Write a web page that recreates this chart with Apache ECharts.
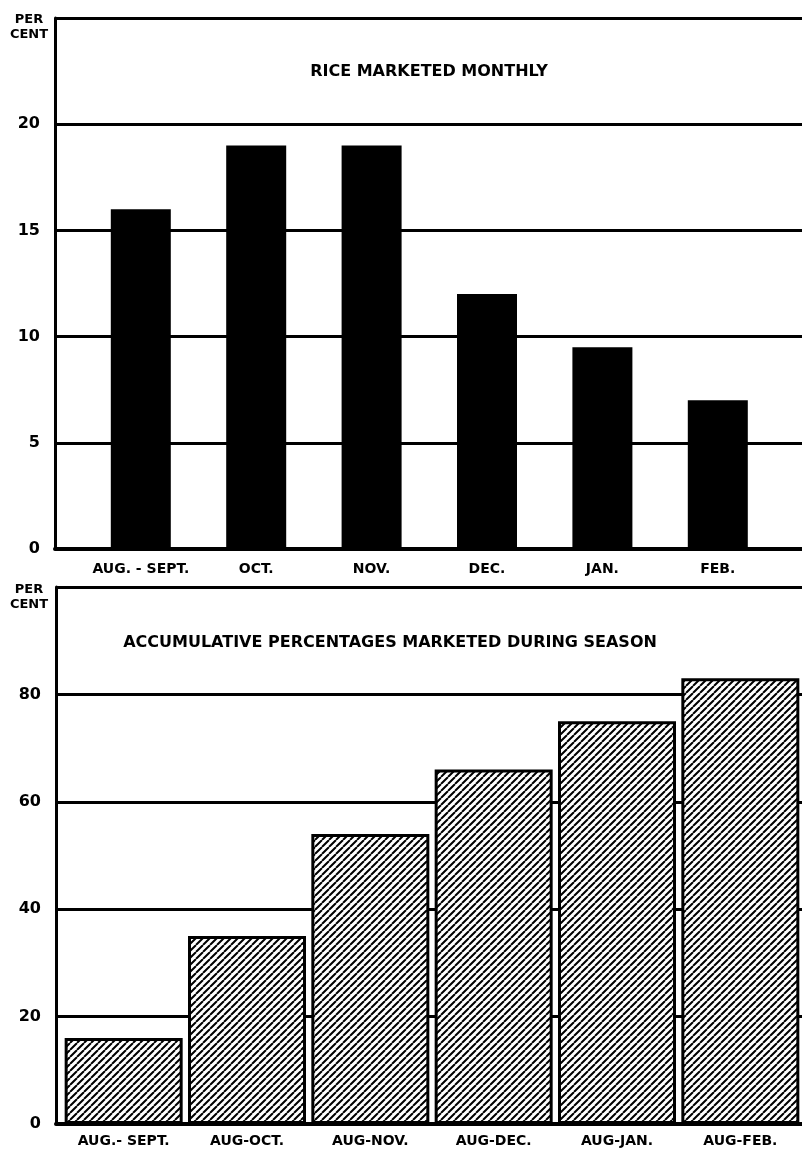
<!DOCTYPE html>
<html>
<head>
<meta charset="utf-8">
<script src="https://cdn.jsdelivr.net/npm/echarts@6/dist/echarts.min.js"></script>
<style>
  html, body { margin: 0; padding: 0; background: #fff; }
  #chart { width: 802px; height: 1149px; }
</style>
</head>
<body>
<div id="chart"></div>
<script>
// ---- data ----
const monthlyCategories = ['AUG. - SEPT.', 'OCT.', 'NOV.', 'DEC.', 'JAN.', 'FEB.'];
const monthlyValues = [16, 19, 19, 12, 9.5, 7];
const monthlyTicks = { min: 0, max: 25, interval: 5 };

const cumulativeCategories = ['AUG.- SEPT.', 'AUG-OCT.', 'AUG-NOV.', 'AUG-DEC.', 'AUG-JAN.', 'AUG-FEB.'];
const cumulativeValues = [16, 35, 54, 66, 75, 83];
const cumulativeTicks = { min: 0, max: 100, interval: 20 };

const topTitle = 'RICE MARKETED MONTHLY';
const bottomTitle = 'ACCUMULATIVE PERCENTAGES MARKETED DURING SEASON';
const unitLines = ['PER', 'CENT'];

// ---- styles ----
const FONT = 'DejaVu Sans';
function hatch() {
  const s = 7;
  const c = document.createElement('canvas');
  c.width = s; c.height = s;
  const g = c.getContext('2d');
  g.fillStyle = '#fff';
  g.fillRect(0, 0, s, s);
  g.strokeStyle = '#000';
  g.lineWidth = 2;
  g.beginPath();
  for (let k = -1; k <= 1; k++) {
    g.moveTo(k * s, s);
    g.lineTo(k * s + s, 0);
  }
  g.stroke();
  return c;
}

const chart = echarts.init(document.getElementById('chart'), null, { renderer: 'canvas' });

function frameY(gridIndex, ticks) {
  return {
    type: 'value', gridIndex, min: ticks.min, max: ticks.max, interval: ticks.interval,
    axisLine: { show: true, lineStyle: { color: '#000', width: 3 } },
    axisTick: { show: false },
    axisLabel: { showMaxLabel: false, color: '#000', fontFamily: FONT, fontWeight: 'bold', fontSize: 16, margin: 15 },
    splitLine: { show: true, lineStyle: { color: '#000', width: 3 } }
  };
}
function hiddenY(gridIndex, ticks) {
  return { type: 'value', gridIndex, min: ticks.min, max: ticks.max, interval: ticks.interval, show: false, splitLine: { show: false } };
}
function frameX(gridIndex) {
  return {
    type: 'value', gridIndex, min: 0, max: 1,
    axisLine: { show: true, onZero: false, lineStyle: { color: '#000', width: 4 } },
    axisTick: { show: false }, axisLabel: { show: false }, splitLine: { show: false }
  };
}
function catX(gridIndex, data, margin) {
  return {
    type: 'category', gridIndex, data,
    axisLine: { show: false }, axisTick: { show: false },
    axisLabel: { color: '#000', fontFamily: FONT, fontWeight: 'bold', fontSize: 14, margin, interval: 0 },
    splitLine: { show: false }
  };
}

function unitText(x, y) {
  return unitLines.map((t, i) => ({
    type: 'text', x, y: y + i * 15,
    style: { text: t, fill: '#000', font: 'bold 13px "' + FONT + '"', textAlign: 'center', textVerticalAlign: 'middle' }
  }));
}

const option = {
  backgroundColor: '#fff',
  animation: false,
  grid: [
    { left: 55, top: 18, right: 0, height: 531 },
    { left: 83.1, top: 18, width: 692.4, height: 531 },
    { left: 56, top: 587, right: 0, height: 537 },
    { left: 62, top: 587, right: 0, height: 537 }
  ],
  xAxis: [
    frameX(0),
    catX(1, monthlyCategories, 13),
    frameX(2),
    catX(3, cumulativeCategories, 10)
  ],
  yAxis: [
    frameY(0, monthlyTicks),
    hiddenY(1, monthlyTicks),
    frameY(2, cumulativeTicks),
    hiddenY(3, cumulativeTicks)
  ],
  series: [
    {
      type: 'bar', xAxisIndex: 1, yAxisIndex: 1, data: monthlyValues,
      barWidth: 60, itemStyle: { color: '#000' }, z: 3
    },
    {
      type: 'bar', xAxisIndex: 3, yAxisIndex: 3, data: cumulativeValues,
      barWidth: 118,
      itemStyle: { color: { image: hatch(), repeat: 'repeat' }, borderColor: '#000', borderWidth: 3 },
      z: 3
    }
  ],
  graphic: [
    { type: 'text', x: 429, y: 72, style: { text: topTitle, fill: '#000', font: 'bold 16px "' + FONT + '"', textAlign: 'center', textVerticalAlign: 'middle' } },
    { type: 'text', x: 390, y: 643, style: { text: bottomTitle, fill: '#000', font: 'bold 16px "' + FONT + '"', textAlign: 'center', textVerticalAlign: 'middle' } },
    ...unitText(29, 20),
    ...unitText(29, 590)
  ]
};
chart.setOption(option);
</script>
</body>
</html>
